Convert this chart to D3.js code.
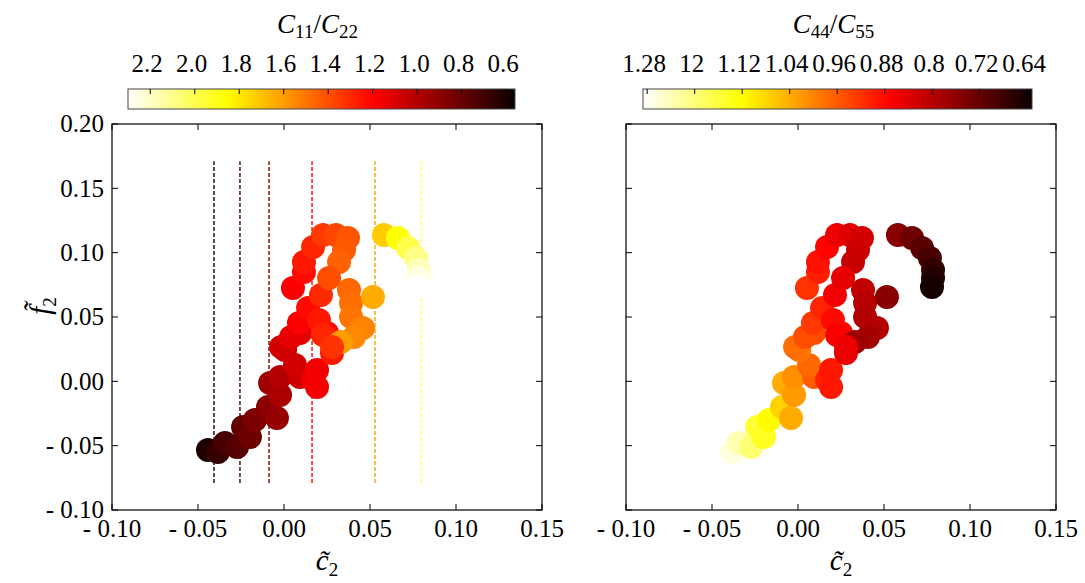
<!DOCTYPE html>
<html><head><meta charset="utf-8">
<script src="https://cdn.jsdelivr.net/npm/d3@7"></script>
<style>
body{margin:0;background:#fff}
svg text{font-family:"Liberation Serif","DejaVu Serif",serif;fill:#000}
</style>
</head><body>
<svg id="c" width="1085" height="583" font-family="Liberation Serif, DejaVu Serif, serif"></svg>
<script>
// ---- data ----
const c2 = [-0.0442,-0.0384,-0.0343,-0.0273,-0.0238,-0.0198,-0.0169,-0.0093,-0.0041,-0.0081,-0.0023,-0.0023,0.0093,0.0064,0.0169,0.0192,0.0192,0.0006,0.0093,0.0279,0.0250,-0.0017,0.0041,0.0087,0.0140,0.0203,0.0227,0.0215,0.0052,0.0116,0.0116,0.0169,0.0227,0.0302,0.0372,0.0349,0.0320,0.0262,0.0378,0.0390,0.0390,0.0459,0.0407,0.0331,0.0279,0.0517,0.0581,0.0663,0.0721,0.0767,0.0785,0.0785,0.0779];
const f2 = [-0.0534,-0.0549,-0.0479,-0.0510,-0.0355,-0.0433,-0.0300,-0.0199,-0.0285,-0.0013,-0.0106,0.0034,0.0034,0.0127,0.0010,-0.0044,0.0088,0.0244,0.0376,0.0220,0.0376,0.0267,0.0345,0.0453,0.0570,0.0477,0.0360,0.0671,0.0725,0.0850,0.0927,0.1044,0.1137,0.1137,0.1114,0.1021,0.0927,0.0803,0.0710,0.0609,0.0500,0.0415,0.0345,0.0306,0.0267,0.0655,0.1137,0.1114,0.1036,0.0959,0.0865,0.0803,0.0733];
const ratioC11C22 = [0.612,0.664,0.717,0.751,0.786,0.821,0.856,0.891,0.925,0.943,0.978,0.995,1.065,1.082,1.152,1.169,1.169,1.065,1.134,1.256,1.221,1.082,1.134,1.186,1.221,1.256,1.291,1.308,1.186,1.221,1.256,1.291,1.343,1.378,1.413,1.430,1.447,1.395,1.465,1.482,1.500,1.534,1.552,1.604,1.326,1.639,1.726,1.865,1.987,2.091,2.178,2.248,2.300];
const ratioC44C55 = [1.287,1.267,1.235,1.195,1.156,1.143,1.117,1.077,1.038,1.038,1.025,1.012,0.960,0.973,0.907,0.894,0.894,0.986,0.946,0.848,0.881,0.979,0.946,0.927,0.907,0.881,0.868,0.861,0.920,0.901,0.887,0.874,0.855,0.842,0.829,0.822,0.815,0.848,0.809,0.802,0.796,0.796,0.783,0.776,0.855,0.756,0.756,0.730,0.711,0.691,0.671,0.658,0.642];

const lineC2 = [-0.0407,-0.0256,-0.0087,0.0163,0.0529,0.0797];
const lineRatio = [0.60,0.70,0.86,1.20,1.61,2.04];
const lineF2Range = [-0.079,0.171];

const xTicks = [-0.10,-0.05,0.00,0.05,0.10,0.15];
const xTickLabels = ["- 0.10","- 0.05","0.00","0.05","0.10","0.15"];
const yTicks = [-0.10,-0.05,0.00,0.05,0.10,0.15,0.20];
const yTickLabels = ["- 0.10","- 0.05","0.00","0.05","0.10","0.15","0.20"];

const cb1Domain = [2.30,0.56];
const cb1Ticks = [2.2,2.0,1.8,1.6,1.4,1.2,1.0,0.8,0.6];
const cb1Labels = ["2.2","2.0","1.8","1.6","1.4","1.2","1.0","0.8","0.6"];
const cb2Domain = [1.287,0.632];
const cb2Ticks = [1.28,1.20,1.12,1.04,0.96,0.88,0.80,0.72,0.64];
const cb2Labels = ["1.28","12","1.12","1.04","0.96","0.88","0.8","0.72","0.64"];

// ---- hot colormap ----
function hot(t){
  t = Math.max(0,Math.min(1,t));
  const a=0.365079, b=0.746032;
  const r = t<a ? 0.0416+(1-0.0416)*t/a : 1;
  const g = t<a ? 0 : (t<b ? (t-a)/(b-a) : 1);
  const bl = t<b ? 0 : (t-b)/(1-b);
  return d3.rgb(r*255,g*255,bl*255).formatHex();
}

const FONT = "Liberation Serif, DejaVu Serif, serif";
const svg = d3.select("#c");
const panels = [
  {x0:112,x1:542,ratios:ratioC11C22,dom:cb1Domain,cbx:[128,515],ticks:cb1Ticks,labels:cb1Labels,showY:true,lines:true,title:["11","22"]},
  {x0:626,x1:1056,ratios:ratioC44C55,dom:cb2Domain,cbx:[643,1032],ticks:cb2Ticks,labels:cb2Labels,showY:false,lines:false,title:["44","55"]}
];
const y0=124,y1=510;
const data = c2.map((d,i)=>({x:d,y:f2[i],i}));

panels.forEach((p,pi)=>{
  const x = d3.scaleLinear().domain([-0.10,0.15]).range([p.x0,p.x1]);
  const y = d3.scaleLinear().domain([-0.10,0.20]).range([y1,y0]);
  const vmin = Math.min(...p.dom), vmax = Math.max(...p.dom);
  const tn = d3.scaleLinear().domain([vmin,vmax]).range([0,1]);
  const col = v=>hot(tn(v));
  const g = svg.append("g").attr("font-family",FONT);

  if(p.lines){
    g.selectAll("line.dl").data(lineC2).enter().append("line")
      .attr("x1",d=>x(d)).attr("x2",d=>x(d))
      .attr("y1",y(lineF2Range[0])).attr("y2",y(lineF2Range[1]))
      .attr("stroke",(d,i)=>col(lineRatio[i])).attr("stroke-width",1.4)
      .attr("stroke-dasharray","4,2");
  }
  g.selectAll("circle").data(data).enter().append("circle")
    .attr("cx",d=>x(d.x)).attr("cy",d=>y(d.y)).attr("r",12)
    .attr("fill",d=>col(p.ratios[d.i]));

  // frame
  g.append("rect").attr("x",p.x0).attr("y",y0).attr("width",p.x1-p.x0).attr("height",y1-y0)
    .attr("fill","none").attr("stroke","#000").attr("stroke-width",1.2);
  const tl=6;
  xTicks.forEach((t,i)=>{
    g.append("line").attr("x1",x(t)).attr("x2",x(t)).attr("y1",y1).attr("y2",y1-tl).attr("stroke","#000");
    g.append("line").attr("x1",x(t)).attr("x2",x(t)).attr("y1",y0).attr("y2",y0+tl).attr("stroke","#000");
    g.append("text").attr("x",x(t)).attr("y",537).attr("text-anchor","middle").attr("font-size",25).text(xTickLabels[i]);
  });
  yTicks.forEach((t,i)=>{
    g.append("line").attr("x1",p.x0).attr("x2",p.x0+tl).attr("y1",y(t)).attr("y2",y(t)).attr("stroke","#000");
    g.append("line").attr("x1",p.x1).attr("x2",p.x1-tl).attr("y1",y(t)).attr("y2",y(t)).attr("stroke","#000");
    if(p.showY) g.append("text").attr("x",p.x0-8).attr("y",y(t)).attr("dy","0.33em").attr("text-anchor","end").attr("font-size",25).text(yTickLabels[i]);
  });
  // x label
  const xl = g.append("text").attr("x",(p.x0+p.x1)/2).attr("y",570).attr("text-anchor","middle").attr("font-size",29);
  xl.append("tspan").attr("font-style","italic").text("c\u0303");
  xl.append("tspan").attr("font-size",19).attr("dy",6).text("2");
  if(p.showY){
    const yl = g.append("text").attr("transform","translate(50,306) rotate(-90)").attr("text-anchor","middle").attr("font-size",29);
    yl.append("tspan").attr("font-style","italic").text("f\u0303");
    yl.append("tspan").attr("font-size",19).attr("dy",6).text("2");
  }

  // colorbar
  const cx = d3.scaleLinear().domain(p.dom).range(p.cbx);
  const gid = "grad"+pi;
  const grad = svg.append("defs").append("linearGradient").attr("id",gid)
    .attr("x1","0%").attr("x2","100%").attr("y1","0%").attr("y2","0%");
  d3.range(0,101).forEach(k=>{
    const v = p.dom[0] + (p.dom[1]-p.dom[0])*k/100;
    grad.append("stop").attr("offset",k+"%").attr("stop-color",col(v));
  });
  g.append("rect").attr("x",p.cbx[0]).attr("y",89).attr("width",p.cbx[1]-p.cbx[0]).attr("height",20)
    .attr("fill","url(#"+gid+")").attr("stroke","#444").attr("stroke-width",1);
  p.ticks.forEach((t,i)=>{
    g.append("line").attr("x1",cx(t)).attr("x2",cx(t)).attr("y1",89).attr("y2",94).attr("stroke","#000");
    g.append("text").attr("x",cx(t)-3).attr("y",72).attr("text-anchor","middle").attr("font-size",25).text(p.labels[i]);
  });
  const tt = g.append("text").attr("x",(p.cbx[0]+p.cbx[1])/2-4).attr("y",33).attr("text-anchor","middle").attr("font-size",27);
  tt.append("tspan").attr("font-style","italic").text("C");
  tt.append("tspan").attr("font-size",19).attr("dy",5).text(p.title[0]);
  tt.append("tspan").attr("dy",-5).text("/");
  tt.append("tspan").attr("font-style","italic").text("C");
  tt.append("tspan").attr("font-size",19).attr("dy",5).text(p.title[1]);
});
</script>
</body></html>
